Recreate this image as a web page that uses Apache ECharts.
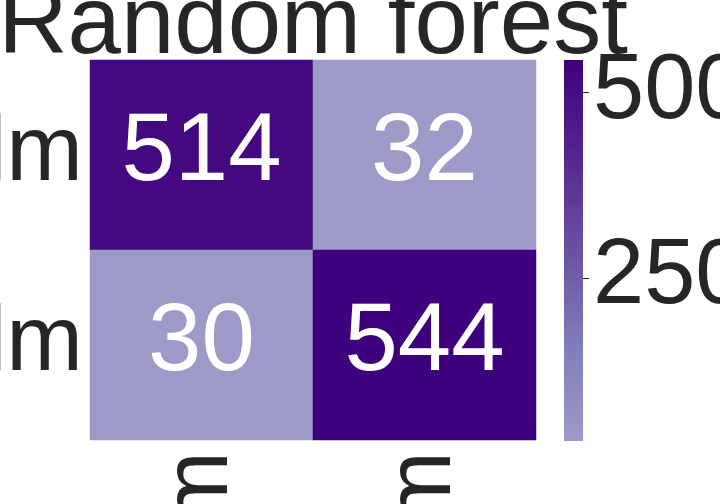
<!DOCTYPE html>
<html>
<head>
<meta charset="utf-8">
<script src="https://cdn.jsdelivr.net/npm/echarts@6/dist/echarts.min.js"></script>
<style>
html,body{margin:0;padding:0;background:#fff;}
#chart{width:720px;height:504px;}
</style>
</head>
<body>
<div id="chart"></div>
<script>
const titleText = 'Random forest';
const xCategories = ['Realm', 'Helm'];
const yCategories = ['Realm', 'Helm'];
// rows (top to bottom) x columns (left to right)
const matrixRow0 = [514, 32];
const matrixRow1 = [30, 544];
const colorbarTicks = [250, 500];
const valueMin = 30;
const valueMax = 544;
const paletteColors = ['#9e9ac8', '#807dba', '#6a51a3', '#54278f', '#3f007d'];

const rows = [matrixRow0, matrixRow1];
const heatData = [];
rows.forEach((row, yi) => row.forEach((v, xi) => heatData.push([xi, yi, v])));

const FONT = '"Liberation Sans", Arial, sans-serif';
const TXT = '#262626';

// gradient for the colour bar (top = max colour)
const gradStops = paletteColors.slice().reverse().map((c, i, a) => ({offset: i / (a.length - 1), color: c}));

const chart = echarts.init(document.getElementById('chart'), null, {renderer: 'canvas'});
chart.setOption({
  animation: false,
  backgroundColor: '#ffffff',
  textStyle: {fontFamily: FONT},
  title: {
    text: titleText,
    left: 313,
    top: -21,
    textAlign: 'center',
    padding: 0,
    textStyle: {fontSize: 96, fontWeight: 'normal', color: TXT, fontFamily: FONT, lineHeight: 96}
  },
  grid: [
    {left: 90, top: 60, width: 446, height: 380, containLabel: false, outerBoundsMode: 'none'},
    {left: 564, top: 60, width: 19, height: 381, containLabel: false, outerBoundsMode: 'none'}
  ],
  xAxis: [
    {
      type: 'category', gridIndex: 0, data: xCategories,
      axisLine: {show: false}, axisTick: {show: false}, splitLine: {show: false},
      axisLabel: {interval: 0, rotate: 90, margin: 11, fontSize: 92, color: TXT, fontFamily: FONT, padding: [0, 0, 7, 0]}
    },
    {type: 'category', gridIndex: 1, show: false, data: ['colorbar']}
  ],
  yAxis: [
    {
      type: 'category', gridIndex: 0, data: yCategories, inverse: true,
      axisLine: {show: false}, axisTick: {show: false}, splitLine: {show: false},
      axisLabel: {interval: 0, margin: 7, fontSize: 92, color: TXT, fontFamily: FONT, padding: [0, 0, 8, 0]}
    },
    {
      type: 'value', gridIndex: 1, position: 'right', min: valueMin, max: valueMax,
      axisLine: {show: false}, splitLine: {show: false},
      axisTick: {show: true, length: 6, lineStyle: {color: TXT, width: 1}, customValues: colorbarTicks},
      axisLabel: {margin: 10, fontSize: 92, color: TXT, fontFamily: FONT, customValues: colorbarTicks}
    }
  ],
  visualMap: {
    type: 'continuous',
    show: false,
    seriesIndex: 0,
    min: valueMin,
    max: valueMax,
    inRange: {color: paletteColors}
  },
  series: [{
    type: 'heatmap',
    xAxisIndex: 0,
    yAxisIndex: 0,
    data: heatData,
    label: {
      show: true, color: '#ffffff', fontSize: 96, fontFamily: FONT, offset: [0, -1],
      formatter: p => String(p.value[2])
    },
    itemStyle: {borderWidth: 0},
    emphasis: {disabled: true}
  }, {
    type: 'bar',
    xAxisIndex: 1,
    yAxisIndex: 1,
    data: [valueMax],
    barWidth: '100%',
    clip: true,
    silent: true,
    itemStyle: {color: new echarts.graphic.LinearGradient(0, 0, 0, 1, gradStops)}
  }]
});
</script>
</body>
</html>
